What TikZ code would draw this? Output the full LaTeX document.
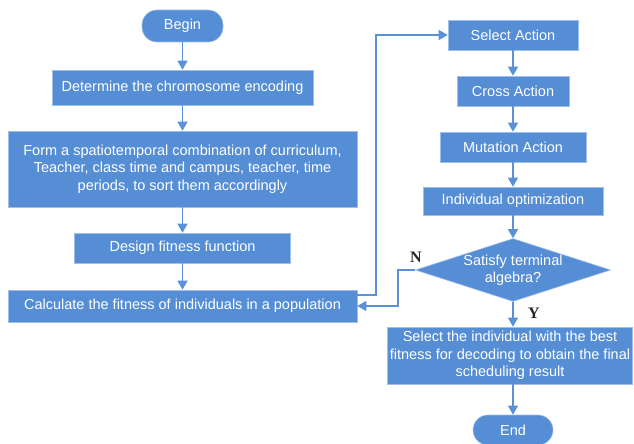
\documentclass[tikz,border=0pt]{standalone}
\usepackage{fontspec}
\setmainfont{Liberation Sans}
\newfontfamily\serifyn{Liberation Serif}
\usetikzlibrary{shapes.geometric,arrows.meta,positioning}
\definecolor{boxblue}{RGB}{85,142,213}
\definecolor{edgeblue}{RGB}{160,190,232}
\definecolor{lineblue}{RGB}{90,145,216}
\tikzset{
  procbox/.style={draw=edgeblue, line width=0.6pt, fill=boxblue, text=white, font=\fontsize{14.5}{17.5}\selectfont, inner sep=0pt, align=center},
  pill/.style={procbox, rounded corners=15pt},
  decis/.style={draw=edgeblue, line width=0.6pt, fill=boxblue, text=white, font=\fontsize{14.5}{17.5}\selectfont, diamond, aspect=3.1, inner sep=0pt, align=center},
  flow/.style={draw=lineblue, line width=1.3pt, -{Triangle[width=10pt,length=9pt]}},
  yn/.style={font=\serifyn\fontsize{16}{18}\selectfont\bfseries, text=black!85}
}
\begin{document}
\begin{tikzpicture}[x=1pt,y=-1pt]
\useasboundingbox (0,0) rectangle (634,444);
% left column
\node[pill, minimum width=81pt, minimum height=32pt] (begin) at (182.5,26) {Begin};
\node[procbox, minimum width=261pt, minimum height=35pt] (enc) at (182.5,87.5) {Determine the chromosome encoding};
\node[procbox, minimum width=349pt, minimum height=76pt] (comb) at (182.5,169) {Form a spatiotemporal combination of curriculum,\\Teacher, class time and campus, teacher, time\\periods, to sort them accordingly};
\node[procbox, minimum width=216pt, minimum height=30pt] (fit) at (182.5,248) {Design fitness function};
\node[procbox, minimum width=349pt, minimum height=32pt] (calc) at (182.5,306) {Calculate the fitness of individuals in a population};
% right column
\node[procbox, minimum width=130pt, minimum height=30pt] (sel) at (513,35) {Select Action};
\node[procbox, minimum width=112pt, minimum height=30pt] (cross) at (513,91) {Cross Action};
\node[procbox, minimum width=146pt, minimum height=30pt] (mut) at (513,147) {Mutation Action};
\node[procbox, minimum width=180pt, minimum height=28pt] (opt) at (513,201) {Individual optimization};
\node[decis, minimum width=187pt, minimum height=60pt] (dec) at (513,270) {Satisfy terminal\\algebra?};
\node[procbox, minimum width=245pt, minimum height=57pt] (res) at (510,355.5) {Select the individual with the best\\fitness for decoding to obtain the final\\scheduling result};
\node[pill, minimum width=80pt, minimum height=30pt] (end) at (513,430) {End};
% connectors
\draw[flow] (begin) -- (enc);
\draw[flow] (enc) -- (comb);
\draw[flow] (comb) -- (fit);
\draw[flow] (fit) -- (calc);
\draw[flow] (calc.east |- 0,295) -- (376,295) -- (376,35) -- (sel.west);
\draw[flow] (sel) -- (cross);
\draw[flow] (cross) -- (mut);
\draw[flow] (mut) -- (opt);
\draw[flow] (opt) -- (dec);
\draw[flow] (dec.west) -- (398,270) -- (398,306) -- (calc.east |- 0,306);
\draw[flow] (dec.south) -- (dec.south |- res.north);
\draw[flow] (res.south -| end.north) -- (end.north);
\node[yn] (nlab) at (416,257) {N};
\node[yn] (ylab) at (534,313) {Y};
\end{tikzpicture}
\end{document}
